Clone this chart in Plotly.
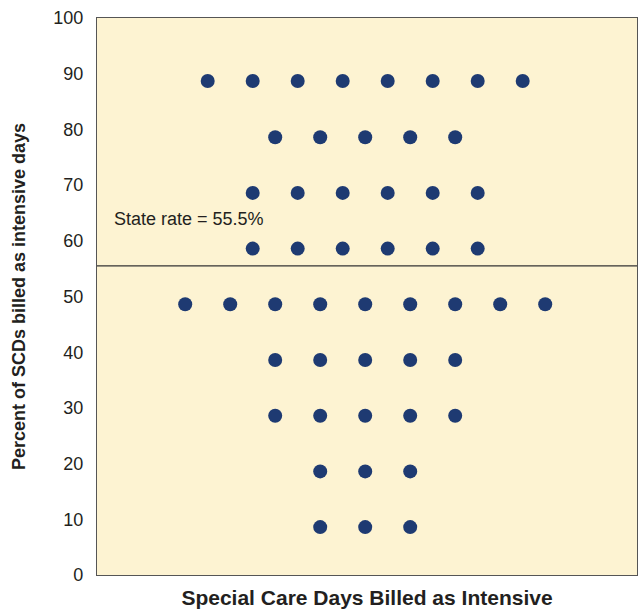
import plotly.graph_objects as go

# Dot-plot data: percent bin (row level) and number of facilities in each bin
row_levels = [88.7, 78.6, 68.6, 58.6, 48.6, 38.6, 28.6, 18.6, 8.6]
row_counts = [8, 5, 6, 6, 9, 5, 5, 3, 3]
state_rate = 55.5
y_ticks = [0, 10, 20, 30, 40, 50, 60, 70, 80, 90, 100]

xs, ys = [], []
for lvl, n in zip(row_levels, row_counts):
    for i in range(n):
        xs.append(i - (n - 1) / 2)
        ys.append(lvl)

fig = go.Figure()
fig.add_trace(go.Scatter(
    x=xs, y=ys, mode="markers",
    marker=dict(size=14, color="#1E3A72"),
    showlegend=False, hoverinfo="skip",
))
fig.add_shape(type="line", xref="paper", x0=0, x1=1, yref="y", y0=state_rate, y1=state_rate,
              line=dict(color="#333333", width=1.2))
fig.add_annotation(xref="paper", x=0.027, yref="y", y=state_rate + 8.4, text="State rate = 55.5%",
                   showarrow=False, xanchor="left", yanchor="middle",
                   font=dict(size=18, color="#231F20", family="Liberation Sans, Arial"))

fig.update_layout(
    width=639, height=610,
    margin=dict(l=97, r=2, t=18, b=35),
    paper_bgcolor="white", plot_bgcolor="#FDF3D2",
    font=dict(family="Liberation Sans, Arial", color="#231F20"),
    xaxis=dict(range=[-5.96, 6.04], showticklabels=False, showgrid=False, zeroline=False,
               showline=True, linecolor="#555555", linewidth=1.2, mirror=True, automargin=False,
               title=dict(text="<b>Special Care Days Billed as Intensive</b>",
                          font=dict(size=21), standoff=15)),
    yaxis=dict(range=[0, 100], tickvals=y_ticks, showgrid=False, zeroline=False,
               showline=True, linecolor="#555555", linewidth=1.2, mirror=True, automargin=False,
               tickfont=dict(size=18), ticks="", ticklabelstandoff=9,
               title=dict(text="<b>Percent of SCDs billed as intensive days</b>",
                          font=dict(size=18), standoff=22)),
)
fig.write_html(
    "out.html",
    config={"responsive": False, "displayModeBar": False},
    post_script="document.body.style.margin='0';document.body.style.overflow='hidden';",
)
